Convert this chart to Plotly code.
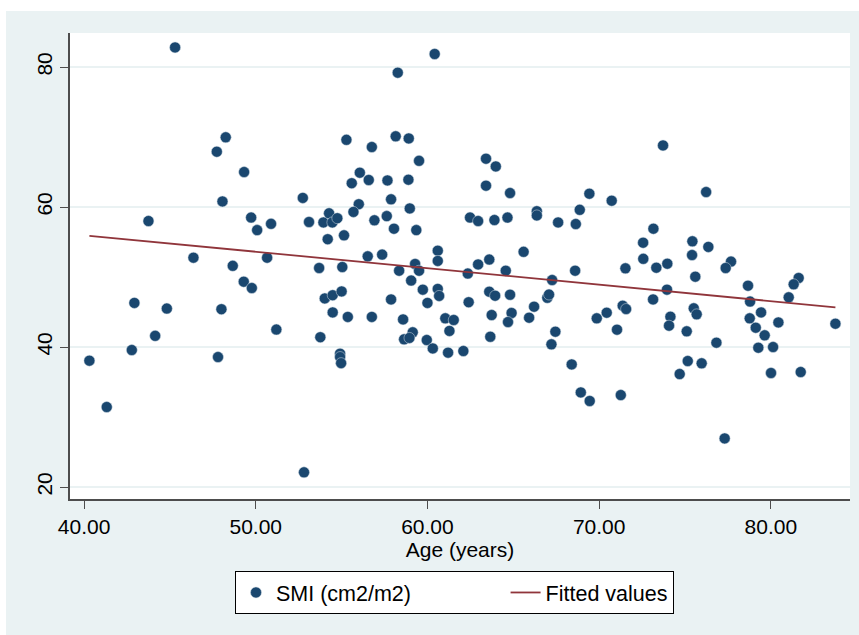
import numpy as np
import plotly.graph_objects as go

# Age (years)
age = [
    45.30, 60.42, 58.27, 48.25, 47.73, 55.28, 58.15, 58.91, 56.76, 59.51,
    49.32, 56.06, 55.59, 56.58, 57.67, 58.89, 52.74, 57.88, 48.06, 56.00,
    55.69, 58.97, 43.75, 49.73, 50.89, 50.08, 53.10, 53.94, 54.27, 54.46,
    54.75, 56.91, 57.63, 58.05, 59.35, 54.19, 55.14, 46.37, 50.66, 56.52,
    57.36, 60.60, 60.60, 59.28, 48.66, 53.69, 55.04,
    58.35, 59.51, 59.05, 59.73, 60.60, 60.68, 60.00, 57.88, 58.58, 61.04,
    61.53, 61.28, 59.14, 58.64, 58.95, 59.96, 60.31, 61.20, 54.02, 54.48,
    55.00, 54.48, 55.36, 56.76, 53.76, 54.91, 54.91, 54.97, 42.93, 44.82,
    48.00, 51.20, 44.14, 42.78, 47.80, 40.31, 41.32, 52.81, 49.30, 49.77,
    73.72, 63.41, 63.98, 63.41, 64.81, 69.43, 70.73, 76.23, 62.48, 62.95,
    63.90, 64.66, 66.37, 66.37, 68.87, 67.61, 68.64, 73.16, 72.56, 75.43,
    76.36, 65.60, 72.57, 75.41, 63.60, 62.95, 77.68,
    62.35, 64.56, 67.26, 68.60, 71.53, 73.33, 73.97, 75.60, 77.37, 73.95,
    73.14, 78.67, 81.62, 81.33, 81.04, 78.79, 63.60, 63.94, 64.81, 62.40,
    63.74, 64.90, 64.69, 63.66, 62.09, 65.92, 66.21, 66.98, 67.08, 67.45,
    67.22, 68.40, 68.93, 69.45, 71.26, 69.86, 70.44, 71.04, 71.37, 71.57,
    74.15, 74.07, 75.10, 75.51, 75.68, 76.83, 75.16, 74.69, 75.97, 77.31,
    78.77, 79.43, 79.12, 79.64, 80.44, 79.27, 80.13, 80.01, 81.74, 83.76,
]

# SMI (cm2/m2)
smi = [
    82.8, 81.86, 79.19, 69.96, 67.9, 69.6, 70.1, 69.8, 68.57, 66.6,
    65.0, 64.9, 63.4, 63.86, 63.8, 63.9, 61.3, 61.1, 60.8, 60.4,
    59.3, 59.8, 58.0, 58.5, 57.6, 56.7, 57.86, 57.8, 59.1, 57.8,
    58.4, 58.1, 58.7, 56.9, 56.7, 55.4, 55.95, 52.76, 52.76, 52.95,
    53.2, 53.76, 52.3, 51.86, 51.6, 51.29, 51.43,
    50.9, 50.9, 49.5, 48.2, 48.3, 47.3, 46.3, 46.8, 43.95, 44.1,
    43.86, 42.3, 42.1, 41.1, 41.3, 41.0, 39.8, 39.2, 46.95, 47.4,
    47.95, 44.95, 44.3, 44.3, 41.4, 39.05, 38.57, 37.7, 46.3, 45.5,
    45.4, 42.5, 41.6, 39.57, 38.57, 38.05, 31.43, 22.1, 49.33, 48.43,
    68.8, 66.9, 65.8, 63.05, 62.0, 61.9, 60.9, 62.14, 58.5, 58.0,
    58.14, 58.5, 59.4, 58.8, 59.6, 57.8, 57.57, 56.9, 54.9, 55.1,
    54.3, 53.6, 52.6, 53.14, 52.5, 51.8, 52.2,
    50.5, 50.9, 49.57, 50.9, 51.24, 51.33, 51.9, 50.05, 51.29, 48.2,
    46.8, 48.76, 49.86, 48.96, 47.1, 46.5, 47.9, 47.33, 47.47, 46.4,
    44.57, 44.86, 43.57, 41.47, 39.43, 44.19, 45.76, 47.04, 47.5, 42.19,
    40.38, 37.52, 33.52, 32.29, 33.14, 44.1, 44.9, 42.48, 45.9, 45.43,
    44.33, 43.05, 42.24, 45.53, 44.67, 40.62, 38.0, 36.14, 37.67, 26.95,
    44.1, 44.95, 42.76, 41.67, 43.52, 39.9, 40.0, 36.29, 36.43, 43.33,
]

x_ticks = [40, 50, 60, 70, 80]
y_ticks = [20, 40, 60, 80]

ax = np.array(age)
ay = np.array(smi)
slope, intercept = np.polyfit(ax, ay, 1)
fx = np.array([ax.min(), ax.max()])
fy = intercept + slope * fx

BG = "#EAF2F3"
FONT = "Liberation Sans, Arial, Helvetica, sans-serif"
NBSP = "\u00a0"

fig = go.Figure()
fig.add_trace(go.Scatter(
    x=age, y=smi, mode="markers", name="SMI (cm2/m2)" + NBSP * 15,
    marker=dict(color="#1A476F", size=11, line=dict(width=0.5, color="#d5dee6")),
))
fig.add_trace(go.Scatter(
    x=fx, y=fy, mode="lines", name="Fitted values",
    line=dict(color="#90353B", width=1.8),
))

fig.update_layout(
    width=859, height=635,
    margin=dict(l=70, r=9, t=33, b=136),
    paper_bgcolor=BG, plot_bgcolor="white",
    font=dict(family=FONT, size=21, color="black"),
    showlegend=True,
    legend=dict(
        orientation="h", x=(235 - 70) / 780, y=-0.1545, xanchor="left", yanchor="top",
        bgcolor="white", bordercolor="black", borderwidth=1,
        font=dict(family=FONT, size=21.5, color="black"),
    ),
    shapes=[
        dict(type="rect", xref="paper", yref="paper", x0=-0.1, x1=-0.0821,
             y0=-0.35, y1=1.1, fillcolor="white", line=dict(width=0), layer="below"),
        dict(type="rect", xref="paper", yref="paper", x0=-0.1, x1=1.1,
             y0=1.0472, y1=1.1, fillcolor="white", line=dict(width=0), layer="below"),
    ],
)
fig.update_xaxes(
    range=[39.18, 84.61], tickvals=x_ticks, tickformat=".2f",
    showgrid=False, zeroline=False,
    showline=True, linecolor="#4d4d4d", linewidth=1.5,
    ticks="outside", ticklen=8, tickwidth=1.3, tickcolor="#4d4d4d",
    tickfont=dict(size=21),
    title=dict(text="Age (years)", font=dict(size=21), standoff=3),
)
fig.update_yaxes(
    range=[18.29, 84.86], tickvals=y_ticks, tickangle=-90,
    showgrid=True, gridcolor=BG, gridwidth=1.6, zeroline=False,
    showline=True, linecolor="#4d4d4d", linewidth=1.5,
    ticks="outside", ticklen=8, tickwidth=1.3, tickcolor="#4d4d4d",
    tickfont=dict(size=21),
)

fig.write_html("out.html")
